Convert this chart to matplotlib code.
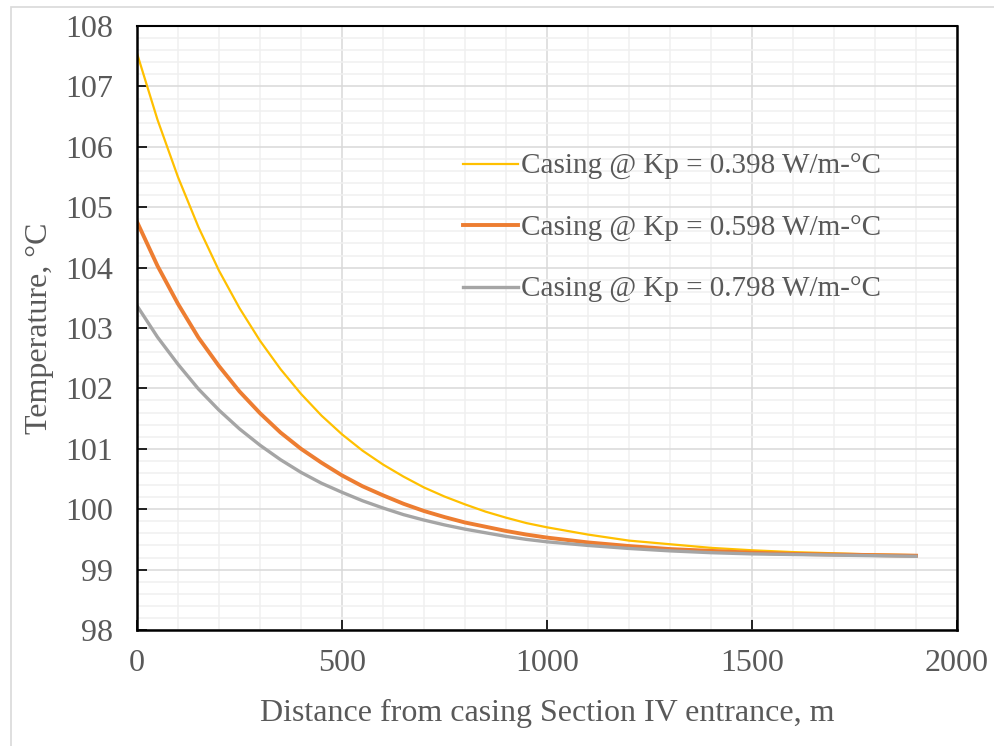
import matplotlib.pyplot as plt
from matplotlib.patches import Rectangle
from matplotlib.ticker import MultipleLocator

# Distance along the casing, m
distancia = [0, 50, 100, 150, 200, 250, 300, 350, 400, 450, 500, 550, 600, 650,
             700, 750, 800, 850, 900, 950, 1000, 1100, 1200, 1300, 1400, 1500,
             1600, 1700, 1800, 1900]

# Casing temperature, °C, for three Kp values
t_0398 = [107.55, 106.45, 105.50, 104.67, 103.95, 103.33, 102.79, 102.32, 101.91,
          101.55, 101.24, 100.97, 100.74, 100.54, 100.36, 100.21, 100.08, 99.96,
          99.86, 99.77, 99.70, 99.58, 99.48, 99.42, 99.36, 99.32, 99.29, 99.27,
          99.25, 99.24]
t_0598 = [104.76, 104.03, 103.40, 102.84, 102.37, 101.95, 101.59, 101.27, 101.00,
          100.77, 100.56, 100.38, 100.23, 100.09, 99.97, 99.87, 99.78, 99.71,
          99.64, 99.58, 99.53, 99.45, 99.39, 99.34, 99.31, 99.28, 99.26, 99.25,
          99.24, 99.23]
t_0798 = [103.37, 102.85, 102.40, 101.99, 101.64, 101.33, 101.06, 100.82, 100.61,
          100.43, 100.28, 100.14, 100.02, 99.91, 99.82, 99.74, 99.67, 99.61,
          99.55, 99.50, 99.46, 99.40, 99.35, 99.31, 99.28, 99.26, 99.25, 99.24,
          99.23, 99.22]

rotulos = ['Casing @ Kp = 0.398 W/m-°C',
           'Casing @ Kp = 0.598 W/m-°C',
           'Casing @ Kp = 0.798 W/m-°C']

cor_texto = '#595959'
plt.rcParams['font.family'] = ['Liberation Serif', 'DejaVu Serif']

fig = plt.figure(figsize=(9.94, 7.46), dpi=100)
ax = fig.add_axes([0.1378, 0.1555, 0.825, 0.8096])

# moldura clara da área do gráfico
fig.patches.append(Rectangle((11 / 994, -0.05), 1.2, 0.05 + (746 - 7) / 746,
                             transform=fig.transFigure, fill=False,
                             edgecolor='#d9d9d9', linewidth=1.2))

ax.plot(distancia, t_0398, color='#FFC000', linewidth=1.6, label=rotulos[0])
ax.plot(distancia, t_0598, color='#ED7D31', linewidth=2.8, label=rotulos[1])
ax.plot(distancia, t_0798, color='#A5A5A5', linewidth=2.4, label=rotulos[2])

ax.set_xlim(0, 2000)
ax.set_ylim(98, 108)
ax.xaxis.set_major_locator(MultipleLocator(500))
ax.xaxis.set_minor_locator(MultipleLocator(100))
ax.yaxis.set_major_locator(MultipleLocator(1))
ax.yaxis.set_minor_locator(MultipleLocator(0.2))

ax.grid(which='major', color='#d9d9d9', linewidth=1.1)
ax.grid(which='minor', color='#f0f0f0', linewidth=1.1)
ax.set_axisbelow(True)

for s in ax.spines.values():
    s.set_color('black')
    s.set_linewidth(1.8)
ax.spines['top'].set_linewidth(1.5)

ax.tick_params(which='major', direction='in', length=7, width=1.2,
               labelsize=23, labelcolor=cor_texto)
ax.tick_params(axis='y', pad=17)
ax.tick_params(axis='x', pad=14)
ax.tick_params(which='minor', length=0)

ax.set_xlabel('Distance from casing Section IV entrance, m', fontsize=23,
              color=cor_texto, labelpad=15)
ax.set_ylabel('Temperature, °C', fontsize=23, color=cor_texto, labelpad=8)

leg = ax.legend(loc='center left', bbox_to_anchor=(0.397, 0.665), frameon=False,
                fontsize=21, handlelength=1.9, handletextpad=0.1,
                labelspacing=1.2, borderpad=0, borderaxespad=0)
for t in leg.get_texts():
    t.set_color(cor_texto)

fig.savefig('out.png', dpi=100)
